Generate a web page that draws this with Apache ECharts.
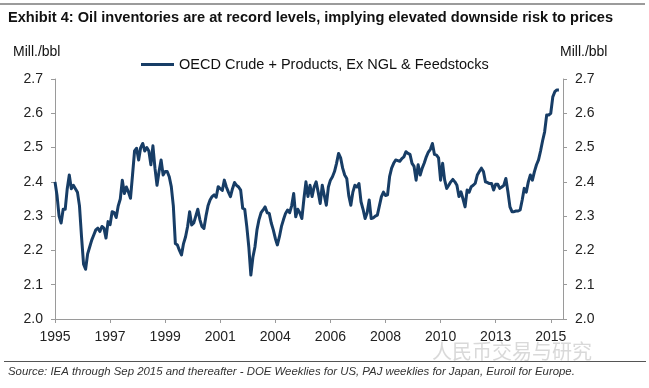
<!DOCTYPE html>
<html>
<head>
<meta charset="utf-8">
<script src="https://cdn.jsdelivr.net/npm/echarts@6/dist/echarts.min.js"></script>
<style>
html,body{margin:0;padding:0;background:#fff;}
#c{width:649px;height:388px;}
</style>
</head>
<body>
<div id="c"></div>
<script>
// Monthly categories Jan 1995 .. Oct 2015
var startYear = 1995;
var monthCount = 250;
var months = [];
for (var i = 0; i < monthCount; i++) {
  var y = startYear + Math.floor(i / 12);
  var m = (i % 12) + 1;
  months.push(y + '-' + (m < 10 ? '0' + m : m));
}

// OECD Crude + Products, Ex NGL & Feedstocks (bn bbl)
var inventories = [
  2.40, 2.36, 2.30, 2.28, 2.32, 2.32, 2.38, 2.42, 2.38, 2.39,
  2.38, 2.37, 2.33, 2.24, 2.16, 2.145, 2.19, 2.21, 2.23, 2.245,
  2.26, 2.265, 2.255, 2.27, 2.265, 2.236, 2.284, 2.275, 2.313, 2.31,
  2.296, 2.33, 2.35, 2.405, 2.366, 2.385, 2.37, 2.352, 2.42, 2.49,
  2.498, 2.464, 2.50, 2.512, 2.49, 2.50, 2.49, 2.45, 2.505, 2.44,
  2.39, 2.43, 2.464, 2.42, 2.43, 2.43, 2.415, 2.386, 2.33, 2.22,
  2.216, 2.20, 2.187, 2.22, 2.24, 2.27, 2.313, 2.274, 2.28, 2.30,
  2.32, 2.29, 2.27, 2.264, 2.30, 2.33, 2.347, 2.357, 2.362, 2.355,
  2.386, 2.38, 2.375, 2.405, 2.385, 2.37, 2.357, 2.38, 2.398, 2.39,
  2.385, 2.376, 2.323, 2.32, 2.27, 2.21, 2.128, 2.18, 2.21, 2.26,
  2.29, 2.31, 2.318, 2.327, 2.31, 2.308, 2.28, 2.26, 2.235, 2.216,
  2.24, 2.27, 2.29, 2.308, 2.318, 2.31, 2.33, 2.366, 2.298, 2.32,
  2.31, 2.293, 2.35, 2.40, 2.357, 2.39, 2.357, 2.385, 2.40, 2.37,
  2.337, 2.39, 2.36, 2.332, 2.385, 2.405, 2.415, 2.43, 2.454, 2.483,
  2.47, 2.44, 2.42, 2.41, 2.36, 2.332, 2.37, 2.39, 2.385, 2.395,
  2.342, 2.32, 2.293, 2.31, 2.347, 2.293, 2.295, 2.30, 2.303, 2.33,
  2.357, 2.37, 2.36, 2.362, 2.415, 2.44, 2.454, 2.464, 2.462, 2.46,
  2.468, 2.473, 2.488, 2.483, 2.48, 2.454, 2.445, 2.405, 2.45, 2.42,
  2.44, 2.455, 2.473, 2.487, 2.495, 2.512, 2.48, 2.478, 2.47, 2.405,
  2.454, 2.405, 2.381, 2.39, 2.40, 2.407, 2.40, 2.39, 2.357, 2.371,
  2.35, 2.327, 2.376, 2.37, 2.386, 2.39, 2.396, 2.42, 2.43, 2.44,
  2.43, 2.40, 2.398, 2.395, 2.395, 2.376, 2.393, 2.393, 2.381, 2.385,
  2.39, 2.41, 2.371, 2.327, 2.313, 2.313, 2.315, 2.315, 2.318, 2.347,
  2.381, 2.37, 2.40, 2.42, 2.405, 2.43, 2.45, 2.464, 2.49, 2.52,
  2.546, 2.595, 2.595, 2.60, 2.648, 2.663, 2.668, 2.668, null, null
];

var yTicks = ['2.0', '2.1', '2.2', '2.3', '2.4', '2.5', '2.6', '2.7'];
var seriesName = 'OECD Crude + Products, Ex NGL & Feedstocks';
var titleText = 'Exhibit 4: Oil inventories are at record levels, implying elevated downside risk to prices';
var unitText = 'Mill./bbl';
var sourceText = 'Source: IEA through Sep 2015 and thereafter - DOE Weeklies for US, PAJ weeklies for Japan, Euroil for Europe.';
var watermarkText = '人民币交易与研究';

var FONT = '"Liberation Sans", Arial, sans-serif';
var axisColor = '#9a9a9a';
var lineColor = '#173d66';

var chart = echarts.init(document.getElementById('c'), null, {renderer: 'canvas'});

function yAxisCfg(pos) {
  return {
    type: 'value',
    position: pos,
    min: 2.0, max: 2.7, interval: 0.1,
    axisLine: {show: true, lineStyle: {color: axisColor, width: 1}},
    axisTick: {show: true, length: 4, lineStyle: {color: axisColor}},
    splitLine: {show: false},
    axisLabel: {
      color: '#222', fontSize: 14, fontFamily: FONT, margin: 12,
      formatter: function (v) { return yTicks[Math.round((v - 2.0) * 10)]; }
    }
  };
}

chart.setOption({
  animation: false,
  backgroundColor: '#fff',
  grid: {left: 55, right: 86, top: 79, bottom: 69, containLabel: false},
  legend: {
    show: true,
    left: 136, top: 52,
    itemWidth: 33, itemHeight: 3, itemGap: 3,
    icon: 'rect',
    textStyle: {color: '#111', fontSize: 14.5, fontFamily: FONT},
    data: [{name: seriesName, icon: 'rect'}]
  },
  graphic: [
    {type: 'rect', shape: {x: 0, y: 3, width: 645, height: 2}, style: {fill: '#9b9b9b'}},
    {type: 'text', left: 8, top: 10, style: {text: titleText, fill: '#111', font: 'bold 14.6px ' + FONT}},
    {type: 'text', left: 13, top: 45, style: {text: unitText, fill: '#111', font: '14px ' + FONT}},
    {type: 'text', left: 560, top: 45, style: {text: unitText, fill: '#111', font: '14px ' + FONT}},
    {type: 'text', left: 432, top: 341, style: {text: watermarkText, fill: 'rgba(180,180,180,0.5)', font: '20px "Noto Sans CJK SC", sans-serif'}},
    {type: 'rect', shape: {x: 4, y: 361, width: 642, height: 1}, style: {fill: '#555'}},
    {type: 'text', left: 8, top: 366, style: {text: sourceText, fill: '#333', font: 'italic 11.4px ' + FONT}}
  ],
  xAxis: {
    type: 'category',
    data: months,
    boundaryGap: false,
    axisLine: {show: true, lineStyle: {color: axisColor}},
    axisTick: {show: true, interval: 26, length: 4, lineStyle: {color: axisColor}},
    axisLabel: {
      interval: 26, color: '#222', fontSize: 14, fontFamily: FONT, margin: 11,
      formatter: function (v) { return v.slice(0, 4); }
    },
    splitLine: {show: false}
  },
  yAxis: [yAxisCfg('left'), yAxisCfg('right')],
  series: [{
    name: seriesName,
    type: 'line',
    data: inventories,
    yAxisIndex: 0,
    showSymbol: false,
    symbol: 'none',
    connectNulls: false,
    lineStyle: {color: lineColor, width: 3, join: 'round'},
    itemStyle: {color: lineColor}
  }]
});
</script>
</body>
</html>
